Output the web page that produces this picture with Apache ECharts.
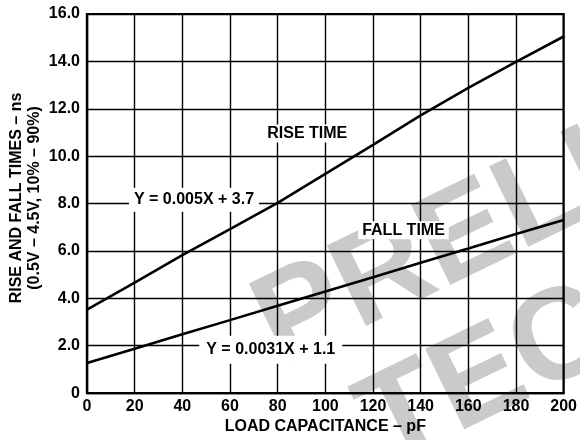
<!DOCTYPE html>
<html>
<head>
<meta charset="utf-8">
<script src="https://cdn.jsdelivr.net/npm/echarts@6/dist/echarts.min.js"></script>
<style>
  html, body { margin: 0; padding: 0; background: #fff; }
  #chart { width: 580px; height: 440px; }
</style>
</head>
<body>
<div id="chart"></div>
<script>
// Load capacitance (pF) and measured edge times (ns)
const capacitance = [0, 20, 40, 60, 80, 100, 120, 140, 160, 180, 200];
const riseTime = [3.52, 4.66, 5.82, 6.92, 8.03, 9.25, 10.48, 11.72, 12.88, 13.98, 15.05];
const fallTime = [1.27, 1.87, 2.48, 3.08, 3.69, 4.29, 4.89, 5.5, 6.1, 6.71, 7.31];

// Annotation texts and their anchor points in data units
const riseLabel = { text: 'RISE TIME', at: [92.4, 10.96] };
const fallLabel = { text: 'FALL TIME', at: [132.8, 6.87] };
const riseFit = { text: 'Y = 0.005X + 3.7', at: [44.9, 8.16] };
const fallFit = { text: 'Y = 0.0031X + 1.1', at: [77.1, 1.83] };

const xTitle = 'LOAD CAPACITANCE \u2013 pF';
const yTitle1 = 'RISE AND FALL TIMES \u2013 ns';
const yTitle2 = '(0.5V \u2013 4.5V, 10% \u2013 90%)';
const stamp1 = 'PRELIMINARY';
const stamp2 = 'TECHNICAL DATA';

const FONT = '"Liberation Sans", Arial, Helvetica, sans-serif';
const FS = 16;
const STAMP_ANGLE = 26 * Math.PI / 180;

function pairs(xs, ys) { return xs.map((x, i) => [x, ys[i]]); }

function note(lbl, pad) {
  return {
    coord: lbl.at,
    symbol: 'circle',
    symbolSize: 1,
    itemStyle: { color: 'rgba(0,0,0,0)' },
    label: {
      show: true,
      position: 'inside',
      formatter: lbl.text,
      color: '#000',
      fontFamily: FONT,
      fontWeight: 'bold',
      fontSize: FS,
      backgroundColor: '#fff',
      padding: pad
    }
  };
}

const chart = echarts.init(document.getElementById('chart'), null, { renderer: 'canvas' });

const lineStyle = { color: '#000', width: 2.6 };

chart.setOption({
  animation: false,
  backgroundColor: '#fff',
  grid: {
    left: 87, right: 14, top: 14, bottom: 43,
    show: true, borderColor: '#000', borderWidth: 2.2, backgroundColor: 'transparent'
  },
  xAxis: {
    type: 'value', min: 0, max: 200, interval: 20,
    axisLine: { show: true, lineStyle: { color: '#000', width: 2.2 } },
    axisTick: { show: false },
    splitLine: { show: true, lineStyle: { color: '#000', width: 1.4 } },
    axisLabel: {
      color: '#000', fontFamily: FONT, fontWeight: 'bold', fontSize: FS, margin: 5
    },
    name: xTitle,
    nameLocation: 'middle',
    nameGap: 16,
    nameTextStyle: { color: '#000', fontFamily: FONT, fontWeight: 'bold', fontSize: FS }
  },
  yAxis: {
    type: 'value', min: 0, max: 16, interval: 2,
    axisLine: { show: true, lineStyle: { color: '#000', width: 2.2 } },
    axisTick: { show: false },
    splitLine: { show: true, lineStyle: { color: '#000', width: 1.4 } },
    axisLabel: {
      color: '#000', fontFamily: FONT, fontWeight: 'bold', fontSize: FS, margin: 7,
      formatter: v => (v === 0 ? '0' : v.toFixed(1))
    }
  },
  graphic: [
    {
      type: 'text', z: -10, x: 293, y: 394, rotation: STAMP_ANGLE,
      style: {
        text: stamp1, fill: '#cacaca', font: 'bold 130px ' + FONT,
        align: 'left', verticalAlign: 'bottom'
      }
    },
    {
      type: 'text', z: -10, x: 398, y: 494, rotation: STAMP_ANGLE,
      style: {
        text: stamp2, fill: '#cacaca', font: 'bold 130px ' + FONT,
        align: 'left', verticalAlign: 'bottom'
      }
    },
    {
      type: 'text', x: 17, y: 198, rotation: Math.PI / 2,
      style: {
        text: yTitle1, fill: '#000', font: 'bold ' + FS + 'px ' + FONT,
        align: 'center', verticalAlign: 'middle'
      }
    },
    {
      type: 'text', x: 35, y: 198, rotation: Math.PI / 2,
      style: {
        text: yTitle2, fill: '#000', font: 'bold ' + FS + 'px ' + FONT,
        align: 'center', verticalAlign: 'middle'
      }
    }
  ],
  series: [
    {
      name: 'Rise time', type: 'line', data: pairs(capacitance, riseTime),
      symbol: 'none', lineStyle: lineStyle, z: 3,
      markPoint: { data: [note(riseLabel, [1, 4]), note(riseFit, [4, 5])] }
    },
    {
      name: 'Fall time', type: 'line', data: pairs(capacitance, fallTime),
      symbol: 'none', lineStyle: lineStyle, z: 3,
      markPoint: { data: [note(fallLabel, [1, 4]), note(fallFit, [6, 7])] }
    }
  ]
});
</script>
</body>
</html>
